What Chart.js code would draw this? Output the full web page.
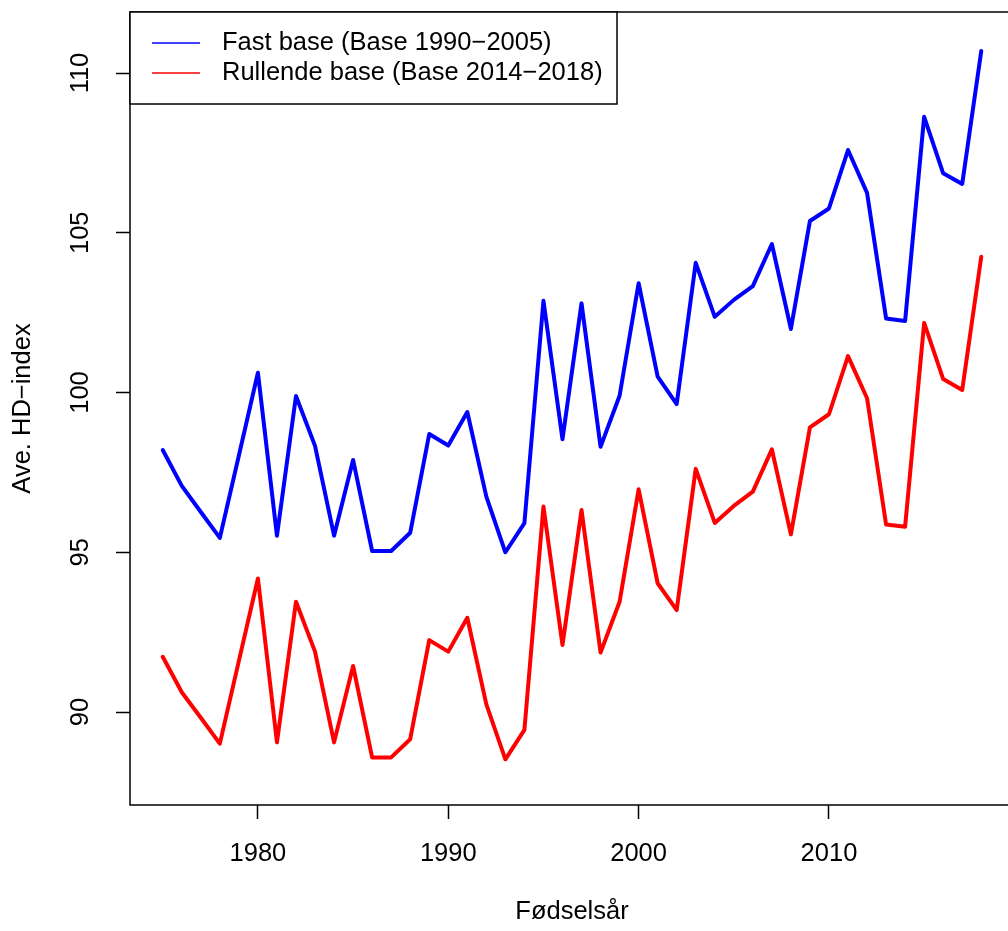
<!DOCTYPE html>
<html>
<head>
<meta charset="utf-8">
<script src="https://cdn.jsdelivr.net/npm/chart.js@4.4.1/dist/chart.umd.min.js"></script>
<style>
  html, body { margin: 0; padding: 0; background: #fff; overflow: hidden; }
  #wrap { width: 1008px; height: 931px; overflow: hidden; position: relative; }
  canvas { display: block; }
</style>
</head>
<body>
<div id="wrap"><canvas id="hdChart" width="1030" height="931"></canvas></div>
<script>
const years = [1975, 1976, 1977, 1978, 1979, 1980, 1981, 1982, 1983, 1984, 1985, 1986, 1987, 1988, 1989,
    1990, 1991, 1992, 1993, 1994, 1995, 1996, 1997, 1998, 1999, 2000, 2001, 2002, 2003, 2004,
    2005, 2006, 2007, 2008, 2009, 2010, 2011, 2012, 2013, 2014, 2015, 2016, 2017, 2018];

const fastBase = [98.20, 97.08, 96.26, 95.45, 98.03, 100.62, 95.52, 99.89, 98.33, 95.52, 97.89, 95.04, 95.04, 95.61, 98.70,
    98.34, 99.39, 96.74, 95.00, 95.91, 102.87, 98.54, 102.79, 98.30, 99.90, 103.42, 100.50, 99.64, 104.06, 102.37,
    102.90, 103.33, 104.65, 101.99, 105.37, 105.76, 107.59, 106.25, 102.32, 102.24, 108.63, 106.86, 106.53, 110.69];

const rullendeBase = [91.73, 90.62, 89.82, 89.01, 91.60, 94.18, 89.05, 93.45, 91.89, 89.05, 91.44, 88.58, 88.58, 89.15, 92.25,
    91.89, 92.95, 90.24, 88.52, 89.44, 96.43, 92.10, 96.32, 91.86, 93.45, 96.97, 94.03, 93.19, 97.61, 95.92,
    96.45, 96.90, 98.22, 95.56, 98.91, 99.32, 101.14, 99.82, 95.87, 95.80, 102.18, 100.42, 100.08, 104.25];

const seriesLabels = ['Fast base (Base 1990\u22122005)', 'Rullende base (Base 2014\u22122018)'];
const seriesColors = ['#0000ff', '#ff0000'];
const xTitle = 'F\u00f8dsels\u00e5r';
const yTitle = 'Ave. HD\u2212index';
const xRange = [1973.28, 2019.72];
const yRange = [87.09, 111.91];

const FONT = '"Liberation Sans", Arial, Helvetica, sans-serif';
const FONT_SIZE = 25.5;

// box, rotated y labels, axis titles and legend, R style
const rDecor = {
    id: 'rDecor',
    afterDraw(chart) {
        const ctx = chart.ctx;
        const area = chart.chartArea;
        const yScale = chart.scales.y;
        ctx.save();
        ctx.fillStyle = '#000';
        ctx.font = `${FONT_SIZE}px ${FONT}`;

        // y tick labels, rotated
        yScale.ticks.forEach(t => {
            const py = yScale.getPixelForValue(t.value);
            ctx.save();
            ctx.translate(81, py);
            ctx.rotate(-Math.PI / 2);
            ctx.textAlign = 'center';
            ctx.textBaseline = 'middle';
            ctx.fillText(String(t.value), 0, 0);
            ctx.restore();
        });

        // axis titles
        ctx.textAlign = 'center';
        ctx.textBaseline = 'middle';
        ctx.fillText(xTitle, (area.left + area.right) / 2, 912);
        ctx.save();
        ctx.translate(23, (area.top + area.bottom) / 2);
        ctx.rotate(-Math.PI / 2);
        ctx.fillText(yTitle, 0, 0);
        ctx.restore();

        // plot box
        ctx.strokeStyle = '#000';
        ctx.lineWidth = 1.5;
        ctx.strokeRect(area.left, area.top, area.right - area.left, area.bottom - area.top);

        // legend (top left)
        const lx = area.left, ly = area.top;
        ctx.fillStyle = '#fff';
        ctx.fillRect(lx, ly, 487, 92);
        ctx.strokeRect(lx, ly, 487, 92);
        chart.data.datasets.forEach((ds, i) => {
            const rowY = ly + 31 + i * 30;
            ctx.strokeStyle = ds.borderColor;
            ctx.lineWidth = 1.5;
            ctx.beginPath();
            ctx.moveTo(lx + 22, rowY);
            ctx.lineTo(lx + 70, rowY);
            ctx.stroke();
            ctx.fillStyle = '#000';
            ctx.textAlign = 'left';
            ctx.fillText(ds.label, lx + 92, rowY);
        });
        ctx.restore();
    }
};

new Chart(document.getElementById('hdChart'), {
    type: 'line',
    data: {
        labels: years,
        datasets: [
            {
                label: seriesLabels[0],
                data: years.map((y, i) => ({ x: y, y: fastBase[i] })),
                borderColor: seriesColors[0],
                borderWidth: 4,
                pointRadius: 0,
                tension: 0,
                borderJoinStyle: 'round',
                borderCapStyle: 'round'
            },
            {
                label: seriesLabels[1],
                data: years.map((y, i) => ({ x: y, y: rullendeBase[i] })),
                borderColor: seriesColors[1],
                borderWidth: 4,
                pointRadius: 0,
                tension: 0,
                borderJoinStyle: 'round',
                borderCapStyle: 'round'
            }
        ]
    },
    options: {
        responsive: false,
        animation: false,
        devicePixelRatio: 1,
        layout: { padding: { top: 12, right: 16, left: 0, bottom: 0 } },
        plugins: { legend: { display: false }, tooltip: { enabled: false } },
        scales: {
            x: {
                type: 'linear',
                min: xRange[0],
                max: xRange[1],
                afterFit: s => { s.height = 126; },
                grid: { drawOnChartArea: false, drawTicks: true, tickLength: 14, tickColor: '#000', tickWidth: 1.5 },
                border: { display: false },
                ticks: {
                    stepSize: 10,
                    includeBounds: false,
                    maxRotation: 0,
                    padding: 20,
                    color: '#000',
                    font: { family: FONT, size: FONT_SIZE },
                    callback: v => String(v)
                }
            },
            y: {
                min: yRange[0],
                max: yRange[1],
                afterFit: s => { s.width = 130; },
                grid: { drawOnChartArea: false, drawTicks: true, tickLength: 14, tickColor: '#000', tickWidth: 1.5 },
                border: { display: false },
                ticks: { stepSize: 5, includeBounds: false, display: false }
            }
        }
    },
    plugins: [rDecor]
});
</script>
</body>
</html>
